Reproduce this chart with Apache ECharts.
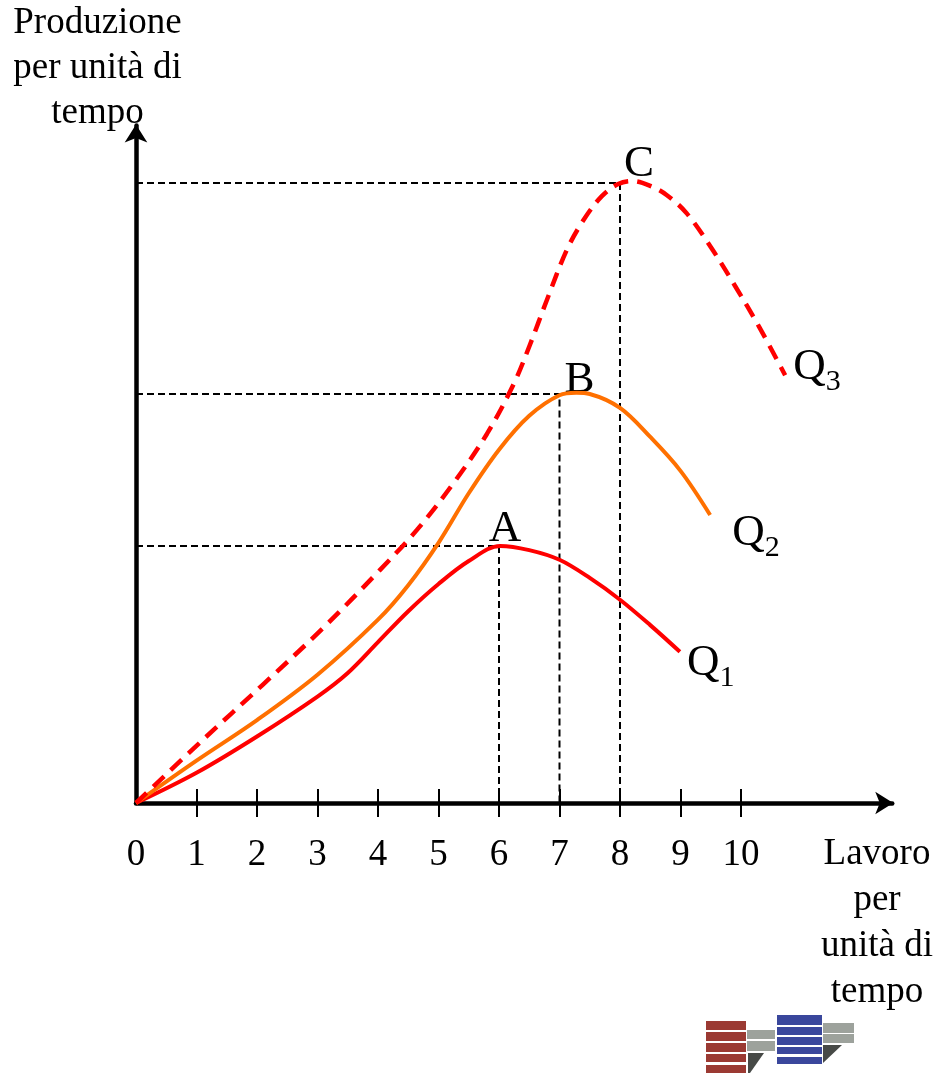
<!DOCTYPE html>
<html style="height: 100%">
<head>
    <meta charset="UTF-8">
    <script src="https://cdn.jsdelivr.net/npm/echarts@6/dist/echarts.min.js"></script>
</head>
<body style="height: 100%; margin: 0; background: #fff">
    <div id="main" style="width: 935px; height: 1073px;"></div>
    <script type="text/javascript">
        // dati (lavoro, produzione)
        var q1 = [[0, 0], [1, 0.5], [2, 1.1], [3, 1.76], [3.5, 2.15], [4, 2.66], [4.5, 3.17], [5, 3.62],
                  [5.5, 4.0], [6.02, 4.25], [6.5, 4.18], [7, 4.02], [7.5, 3.72], [8, 3.36], [8.5, 2.94], [8.99, 2.5]];
        var q2 = [[0, 0], [1, 0.7], [2, 1.37], [3, 2.12], [4, 3.03], [4.5, 3.6], [5, 4.3], [5.5, 5.12],
                  [6, 5.84], [6.5, 6.4], [7, 6.74], [7.28, 6.78], [7.5, 6.76], [8, 6.53], [8.5, 6.05],
                  [9, 5.49], [9.49, 4.76]];
        var q3 = [[0, 0], [1.1, 1.04], [2.09, 1.95], [3.09, 2.89], [4.03, 3.85], [4.64, 4.51], [5.25, 5.29],
                  [5.8, 6.1], [6.24, 6.92], [6.51, 7.57], [6.79, 8.31], [7.12, 9.14], [7.4, 9.64], [7.7, 10.03],
                  [7.97, 10.23], [8.2, 10.28], [8.5, 10.2], [8.77, 10.05], [9.1, 9.75], [9.5, 9.19],
                  [9.9, 8.55], [10.3, 7.87], [10.73, 7.07]];

        var peakNames = ['A', 'B', 'C'];
        var peakX = [6, 7, 8];
        var peakY = [4.25, 6.76, 10.25];

        var tickValues = [1, 2, 3, 4, 5, 6, 7, 8, 9, 10];
        var labelValues = [0, 1, 2, 3, 4, 5, 6, 7, 8, 9, 10];

        var font = '"Liberation Serif", "Times New Roman", serif';
        var myChart = echarts.init(document.getElementById('main'));

        // linee tratteggiate dai punti A, B, C verso gli assi
        var guideSeries = peakX.map(function (x, i) {
            return {
                type: 'line',
                data: [[0, peakY[i]], [x, peakY[i]], [x, 0]],
                symbol: 'none',
                silent: true,
                lineStyle: { color: '#000', width: 2, type: [7, 4] },
                z: 1
            };
        });

        // lettere A, B, C sopra i punti
        var labelOffsets = [[6, 6], [20, 9], [19, 4]];
        var peakLabels = {
            type: 'scatter',
            symbolSize: 1,
            silent: true,
            itemStyle: { color: 'rgba(0,0,0,0)', opacity: 1 },
            label: {
                show: true,
                position: 'top',
                distance: 0,
                color: '#000',
                opacity: 1,
                fontFamily: font,
                fontSize: 45
            },
            data: peakX.map(function (x, i) {
                return {
                    value: [x, peakY[i]],
                    label: { formatter: peakNames[i], offset: labelOffsets[i] }
                };
            })
        };

        function qLabel(n, off) {
            return {
                show: true,
                formatter: '{q|Q}{s|' + n + '}',
                offset: off,
                distance: 7,
                rich: {
                    q: { fontFamily: font, fontSize: 45, color: '#000', lineHeight: 60, verticalAlign: 'middle' },
                    s: { fontFamily: font, fontSize: 30, color: '#000', lineHeight: 60, verticalAlign: 'bottom' }
                }
            };
        }

        var axisLineStyle = { color: '#000', width: 4.5 };

        var option = {
            animation: false,
            grid: { left: 136, top: 125.4, width: 756.25, height: 677.6, outerBoundsMode: 'none' },
            xAxis: [{
                type: 'value',
                min: 0, max: 12.5, interval: 1,
                axisLine: { show: true, lineStyle: axisLineStyle, symbol: ['none', 'arrow'], symbolSize: [17, 18], symbolOffset: [0, 1] },
                axisTick: { show: true, length: 14, customValues: tickValues, lineStyle: { color: '#000', width: 2 } },
                axisLabel: { customValues: labelValues, color: '#000', fontFamily: font, fontSize: 37, margin: 34 },
                splitLine: { show: false }
            }, {
                type: 'value',
                position: 'bottom',
                min: 0, max: 12.5, interval: 1,
                axisLine: { show: false },
                axisTick: { show: true, inside: true, length: 14, customValues: tickValues, lineStyle: { color: '#000', width: 2 } },
                axisLabel: { show: false },
                splitLine: { show: false }
            }],
            yAxis: {
                type: 'value',
                min: 0, max: 11.2,
                axisLine: { show: true, lineStyle: axisLineStyle, symbol: ['none', 'arrow'], symbolSize: [17, 18], symbolOffset: [0, 1] },
                axisTick: { show: false },
                axisLabel: { show: false },
                splitLine: { show: false }
            },
            graphic: [
                { type: 'text', x: 97.5, y: 1, style: { text: 'Produzione\nper unità di\ntempo', textAlign: 'center', textVerticalAlign: 'top', font: '37px ' + font, lineHeight: 45, fill: '#000' } },
                { type: 'text', x: 877, y: 831, style: { text: 'Lavoro\nper\nunità di\ntempo', textAlign: 'center', textVerticalAlign: 'top', font: '37px ' + font, lineHeight: 46, fill: '#000' } },
                // logo
                { type: 'group', children: [
                    { type: 'rect', shape: { x: 706, y: 1021, width: 40, height: 9 }, style: { fill: '#9b3a33' } },
                    { type: 'rect', shape: { x: 706, y: 1032, width: 40, height: 9 }, style: { fill: '#9b3a33' } },
                    { type: 'rect', shape: { x: 706, y: 1043, width: 40, height: 9 }, style: { fill: '#9b3a33' } },
                    { type: 'rect', shape: { x: 706, y: 1054, width: 40, height: 8 }, style: { fill: '#9b3a33' } },
                    { type: 'rect', shape: { x: 706, y: 1065, width: 40, height: 8 }, style: { fill: '#9b3a33' } },
                    { type: 'rect', shape: { x: 747, y: 1030, width: 28, height: 9 }, style: { fill: '#9da29c' } },
                    { type: 'rect', shape: { x: 747, y: 1041, width: 28, height: 10 }, style: { fill: '#9da29c' } },
                    { type: 'polygon', shape: { points: [[748, 1053], [764, 1053], [750, 1073], [748, 1073]] }, style: { fill: '#474a47' } },
                    { type: 'rect', shape: { x: 777, y: 1015, width: 45, height: 10 }, style: { fill: '#3a479c' } },
                    { type: 'rect', shape: { x: 777, y: 1027, width: 45, height: 8 }, style: { fill: '#3a479c' } },
                    { type: 'rect', shape: { x: 777, y: 1037, width: 45, height: 8 }, style: { fill: '#3a479c' } },
                    { type: 'rect', shape: { x: 777, y: 1047, width: 45, height: 7 }, style: { fill: '#3a479c' } },
                    { type: 'rect', shape: { x: 777, y: 1057, width: 45, height: 7 }, style: { fill: '#3a479c' } },
                    { type: 'rect', shape: { x: 823, y: 1023, width: 31, height: 10 }, style: { fill: '#9da29c' } },
                    { type: 'rect', shape: { x: 823, y: 1034, width: 31, height: 9 }, style: { fill: '#9da29c' } },
                    { type: 'polygon', shape: { points: [[823, 1045], [842, 1045], [823, 1063]] }, style: { fill: '#474a47' } }
                ] }
            ],
            series: guideSeries.concat([
                {
                    name: 'Q1', type: 'line', data: q1, smooth: 0.35, symbol: 'none', z: 3,
                    lineStyle: { color: '#ff0000', width: 4 },
                    endLabel: qLabel(1, [0, 11])
                },
                {
                    name: 'Q2', type: 'line', data: q2, smooth: 0.35, symbol: 'none', z: 3,
                    lineStyle: { color: '#ff7000', width: 4 },
                    endLabel: qLabel(2, [15, 18])
                },
                {
                    name: 'Q3', type: 'line', data: q3, smooth: 0.35, symbol: 'none', z: 3,
                    lineStyle: { color: '#ff0000', width: 4.5, type: [15, 9] },
                    endLabel: qLabel(3, [1, -8])
                },
                peakLabels
            ])
        };

        myChart.setOption(option);
    </script>
</body>
</html>
